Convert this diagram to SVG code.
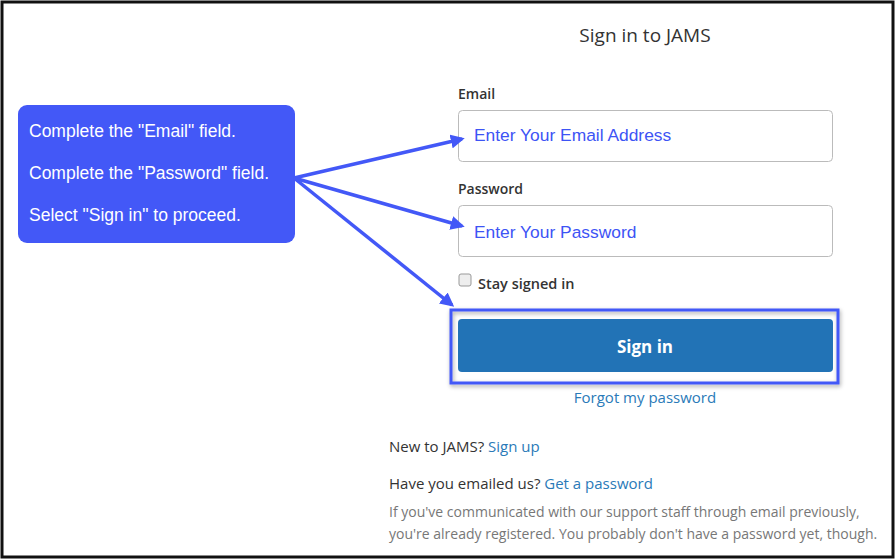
<svg xmlns="http://www.w3.org/2000/svg" width="896" height="560" viewBox="0 0 896 560">
<style>
.t{font-family:"Open Sans","Noto Sans",sans-serif;fill:#333;font-size:15px}
.lk{font-family:"Open Sans","Noto Sans",sans-serif;fill:#2a7ab8;font-size:15px}
.ph{font-family:"Liberation Sans",Arial,sans-serif;fill:#3d54f5;font-size:17.4px}
.cw{font-family:"Liberation Sans",Arial,sans-serif;fill:#fff;font-size:17.5px}
.field{fill:#fff;stroke:#bbb;stroke-width:1}
.arr{stroke:#4358f7;stroke-width:3.5;fill:none;marker-end:url(#ah)}
</style>
<defs>
<marker id="ah" viewBox="0 0 10 10" refX="8" refY="5" markerWidth="4" markerHeight="4" orient="auto"><path d="M0,0L10,5L0,10z" fill="#4358f7"/></marker>
<filter id="sh" x="-10%" y="-10%" width="120%" height="130%"><feDropShadow dx="1" dy="2" stdDeviation="2" flood-opacity="0.35"/></filter>
</defs>
<rect x="0" y="0" width="896" height="560" fill="#fff"/>
<rect x="2" y="2" width="891" height="555" fill="none" stroke="#111" stroke-width="3"/>
<g id="title"><text class="t" x="645" y="42" text-anchor="middle" style="font-size:19px">Sign in to JAMS</text></g>
<g id="email"><text class="t" x="458" y="99" style="font-weight:600;font-size:14px">Email</text>
<rect class="field" x="458.5" y="110.5" width="374" height="51" rx="4"/>
<text class="ph" x="474" y="141">Enter Your Email Address</text></g>
<g id="password"><text class="t" x="458" y="194" style="font-weight:600;font-size:14px">Password</text>
<rect class="field" x="458.5" y="205.5" width="374" height="51" rx="4"/>
<text class="ph" x="474" y="238">Enter Your Password</text></g>
<g id="stay"><rect x="459" y="274" width="12" height="12" rx="2" fill="#eee" stroke="#999"/>
<text class="t" x="478" y="289" style="font-weight:600;font-size:14.5px">Stay signed in</text></g>
<g id="signin"><rect x="451" y="310" width="387" height="73" fill="none" stroke="#4358f7" stroke-width="3" filter="url(#sh)"/>
<rect x="458" y="319" width="375" height="53" rx="4" fill="#2273b6"/>
<text x="645" y="353" text-anchor="middle" style="font-family:'Open Sans',sans-serif;font-weight:700;font-size:17px;fill:#fff">Sign in</text></g>
<g id="links"><text class="lk" x="645" y="403" text-anchor="middle">Forgot my password</text>
<text class="t" x="389" y="452">New to JAMS? <tspan fill="#2a7ab8">Sign up</tspan></text>
<text class="t" x="389" y="489">Have you emailed us? <tspan fill="#2a7ab8">Get a password</tspan></text>
<text class="t" x="389" y="517" style="fill:#777;font-size:14px">If you've communicated with our support staff through email previously,</text>
<text class="t" x="389" y="539" style="fill:#777;font-size:14px">you're already registered. You probably don't have a password yet, though.</text></g>
<g id="callout"><rect x="18" y="105" width="277" height="138" rx="9" fill="#4358f7"/>
<text class="cw" x="29" y="137">Complete the "Email" field.</text>
<text class="cw" x="29" y="179">Complete the "Password" field.</text>
<text class="cw" x="29" y="221">Select "Sign in" to proceed.</text></g>
<g id="connectors">
<line class="arr" x1="294" y1="178" x2="462" y2="139"/>
<line class="arr" x1="294" y1="178" x2="462" y2="226"/>
<line class="arr" x1="294" y1="178" x2="452" y2="305"/>
</g>
</svg>
